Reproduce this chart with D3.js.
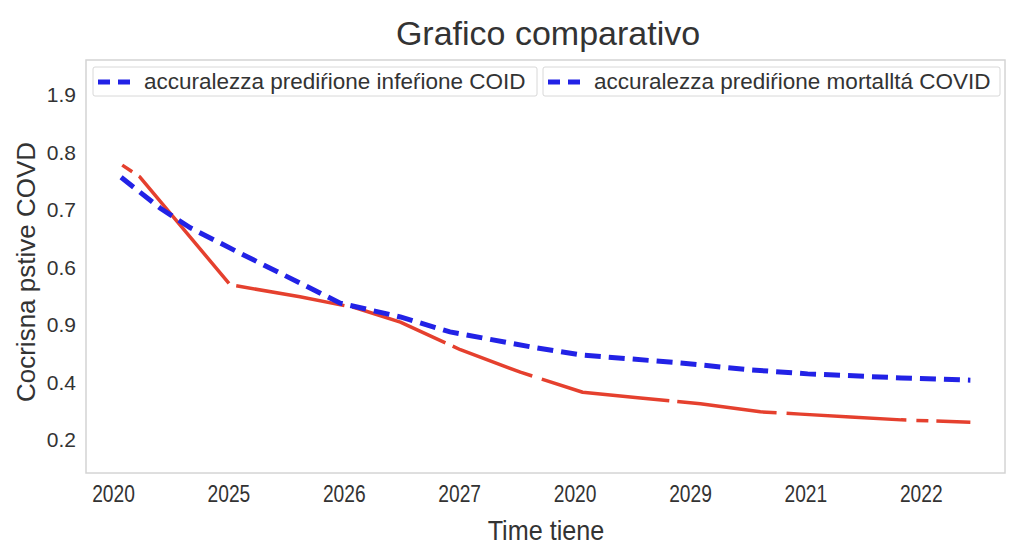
<!DOCTYPE html>
<html><head>
<meta charset="utf-8">
<title>Grafico comparativo</title>
<script src="https://d3js.org/d3.v7.min.js"></script>
<style>
  body { margin: 0; background: #fff; }
  text { fill: #333; }
</style>
</head>
<body>
<div id="chart"></div>
<script>

// Tick labels as printed on the chart
const timeLabels = ["2020", "2025", "2026", "2027", "2020", "2029", "2021", "2022"];
const yTickValues = [0.9, 0.8, 0.7, 0.6, 0.5, 0.4, 0.3];
const yTickLabels = ["1.9", "0.8", "0.7", "0.6", "0.9", "0.4", "0.2"];

// Series: position along the time ticks (0 = first tick) and value
const infezioneT = [0.07, 0.41, 0.67, 1.10, 1.62, 1.97, 2.49, 2.92, 3.62, 4.05, 4.92, 5.52, 6.02, 6.83, 7.43];
const infezioneV = [0.757, 0.703, 0.669, 0.625, 0.573, 0.538, 0.514, 0.488, 0.462, 0.448, 0.434, 0.422, 0.415, 0.408, 0.404];

const mortalitaT = [0.08, 0.23, 1.015, 1.62, 2.10, 2.49, 3.01, 3.53, 4.07, 4.57, 5.09, 5.61, 5.96, 6.39, 6.83, 7.43];
const mortalitaV = [0.778, 0.758, 0.570, 0.549, 0.530, 0.505, 0.457, 0.418, 0.383, 0.373, 0.363, 0.349, 0.345, 0.340, 0.335, 0.331];

const legendLabels = ["accuralezza prediŕione infeŕione COID", "accuralezza prediŕione mortalltá COVID"];

const width = 1024, height = 557;
const margin = { top: 60, right: 19, bottom: 84, left: 86 };
const chartWidth = width - margin.left - margin.right;
const chartHeight = height - margin.top - margin.bottom;

const svg = d3.select("#chart").append("svg")
  .attr("width", width)
  .attr("height", height);

const xScale = d3.scaleLinear().domain([-0.234, 7.73]).range([0, chartWidth]);
const yScale = d3.scaleLinear().domain([0.2426, 0.9609]).range([chartHeight, 0]);

const plot = svg.append("g").attr("transform", "translate(" + margin.left + "," + margin.top + ")");

// frame
plot.append("rect")
  .attr("width", chartWidth)
  .attr("height", chartHeight)
  .attr("fill", "#fff")
  .attr("stroke", "#d4d4d4")
  .attr("stroke-width", 1.5);

// axes (no tick marks, no domain line)
const xAxis = d3.axisBottom(xScale)
  .tickValues(d3.range(timeLabels.length))
  .tickFormat(i => timeLabels[i])
  .tickSize(0).tickPadding(12);
const xAxisArea = plot.append("g").attr("transform", "translate(0," + chartHeight + ")").call(xAxis);
xAxisArea.select(".domain").remove();
// narrow-looking tick labels: squeeze Liberation Sans horizontally
xAxisArea.selectAll("text")
  .attr("fill", "#333")
  .attr("transform", "scale(0.8,1)")
  .style("font-family", "'Liberation Sans', Arial, sans-serif")
  .style("font-size", "24px");

const yAxis = d3.axisLeft(yScale)
  .tickValues(yTickValues)
  .tickFormat((d, i) => yTickLabels[i])
  .tickSize(0).tickPadding(10);
const yAxisArea = plot.append("g").call(yAxis);
yAxisArea.select(".domain").remove();
yAxisArea.selectAll("text")
  .attr("fill", "#333")
  .style("font-family", "'Liberation Sans', Arial, sans-serif")
  .style("font-size", "21px");

// lines
const line = d3.line()
  .x(d => xScale(d[0]))
  .y(d => yScale(d[1]));

const redData = mortalitaT.map((t, i) => [t, mortalitaV[i]]);
const blueData = infezioneT.map((t, i) => [t, infezioneV[i]]);

plot.append("path")
  .datum(redData)
  .attr("d", line)
  .attr("fill", "none")
  .attr("stroke", "#e5402e")
  .attr("stroke-width", 3.5)
  .attr("stroke-dasharray", "12,8,140,8,110,8,100,8,85,10,130,8,100,10,120,10")
  .attr("stroke-linejoin", "round");

plot.append("path")
  .datum(blueData)
  .attr("d", line)
  .attr("fill", "none")
  .attr("stroke", "#2222e6")
  .attr("stroke-width", 5)
  .attr("stroke-dasharray", "16,8");

// legend
const legendBoxes = [{ x: 93, w: 444 }, { x: 543, w: 457 }];
legendBoxes.forEach((b, i) => {
  const g = svg.append("g").attr("transform", "translate(" + b.x + ",67)");
  g.append("rect")
    .attr("width", b.w).attr("height", 29)
    .attr("rx", 2)
    .attr("fill", "#fff")
    .attr("stroke", "#d8d8d8")
    .attr("stroke-width", 1);
  g.append("line")
    .attr("x1", 5).attr("x2", 38)
    .attr("y1", 15).attr("y2", 15)
    .attr("stroke", "#2222e6")
    .attr("stroke-width", 5)
    .attr("stroke-dasharray", "12,8");
  g.append("text")
    .attr("x", 51).attr("y", 22)
    .style("font-family", "'Liberation Sans', Arial, sans-serif")
    .style("font-size", "22.5px")
    .text(legendLabels[i]);
});

// title and axis labels
svg.append("text")
  .attr("x", 548).attr("y", 45)
  .attr("text-anchor", "middle")
  .style("font-family", "'Liberation Sans', Arial, sans-serif")
  .style("font-size", "34px")
  .text("Grafico comparativo");

svg.append("text")
  .attr("x", 546).attr("y", 540)
  .attr("text-anchor", "middle")
  .attr("transform", "translate(546,0) scale(0.9,1) translate(-546,0)")
  .style("font-family", "'Liberation Sans', Arial, sans-serif")
  .style("font-size", "28px")
  .text("Time tiene");

svg.append("text")
  .attr("transform", "translate(35,272) rotate(-90)")
  .attr("text-anchor", "middle")
  .style("font-family", "'Liberation Sans', Arial, sans-serif")
  .style("font-size", "26px")
  .text("Cocrisna pstive COVD");

</script>
</body>
</html>
